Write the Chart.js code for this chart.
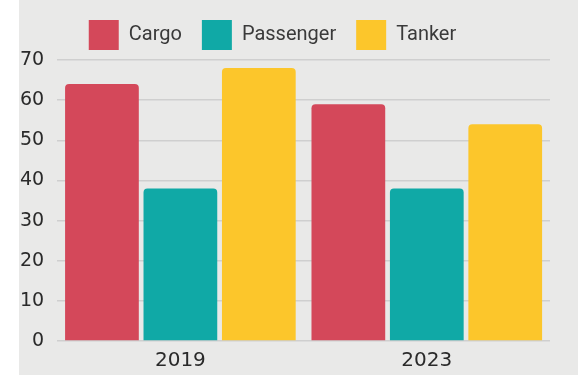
<!DOCTYPE html>
<html>
<head>
<meta charset="utf-8">
<script src="https://cdn.jsdelivr.net/npm/chart.js@4"></script>
<style>
  html, body { margin: 0; padding: 0; background: #ffffff; }
  #panel {
    position: absolute; left: 19px; top: 0;
    width: 559px; height: 375px;
    background: #e9e9e8;
  }
</style>
</head>
<body>
<div id="panel"><canvas id="chart" width="559" height="375"></canvas></div>
<script>
// Werte
const years = ["2019", "2023"];
const cargo = [64, 59];
const passenger = [38, 38];
const tanker = [68, 54];
const yTicks = [0, 10, 20, 30, 40, 50, 60, 70];

// Legende etwas nach links schieben (wie im Original)
const legendShift = {
  id: "legendShift",
  afterLayout(chart) {
    chart.legend.right -= 12;
    chart.legend.adjustHitBoxes();
  }
};

const ctx = document.getElementById("chart").getContext("2d");

new Chart(ctx, {
  type: "bar",
  data: {
    labels: years,
    datasets: [
      { label: "Cargo", data: cargo, backgroundColor: "#d4485a" },
      { label: "Passenger", data: passenger, backgroundColor: "#10a9a6" },
      { label: "Tanker", data: tanker, backgroundColor: "#fcc62b" }
    ]
  },
  options: {
    responsive: false,
    animation: false,
    layout: { padding: { top: 0, right: 28, bottom: -6, left: -12 } },
    datasets: {
      bar: {
        barPercentage: 0.94,
        categoryPercentage: 0.955,
        borderRadius: { topLeft: 4, topRight: 4 },
        borderSkipped: "bottom"
      }
    },
    plugins: {
      legend: {
        labels: {
          boxWidth: 30,
          boxHeight: 30,
          padding: 20,
          color: "#3a3a3a",
          font: { family: "Roboto, 'Noto Sans', sans-serif", size: 20 }
        }
      },
      tooltip: { enabled: false }
    },
    scales: {
      x: {
        grid: { display: false, drawTicks: false },
        border: { display: false },
        ticks: {
          color: "#2a2a2a",
          padding: 8,
          font: { family: "'DejaVu Sans', sans-serif", size: 20 }
        }
      },
      y: {
        min: 0,
        max: 70,
        afterBuildTicks: (axis) => { axis.ticks = yTicks.map(v => ({ value: v })); },
        grid: { color: "#cfcfcf", lineWidth: 1.5, drawTicks: false },
        border: { display: false },
        ticks: {
          color: "#2a2a2a",
          padding: 13,
          font: { family: "'DejaVu Sans', sans-serif", size: 19 }
        }
      }
    }
  },
  plugins: [legendShift]
});
</script>
</body>
</html>
